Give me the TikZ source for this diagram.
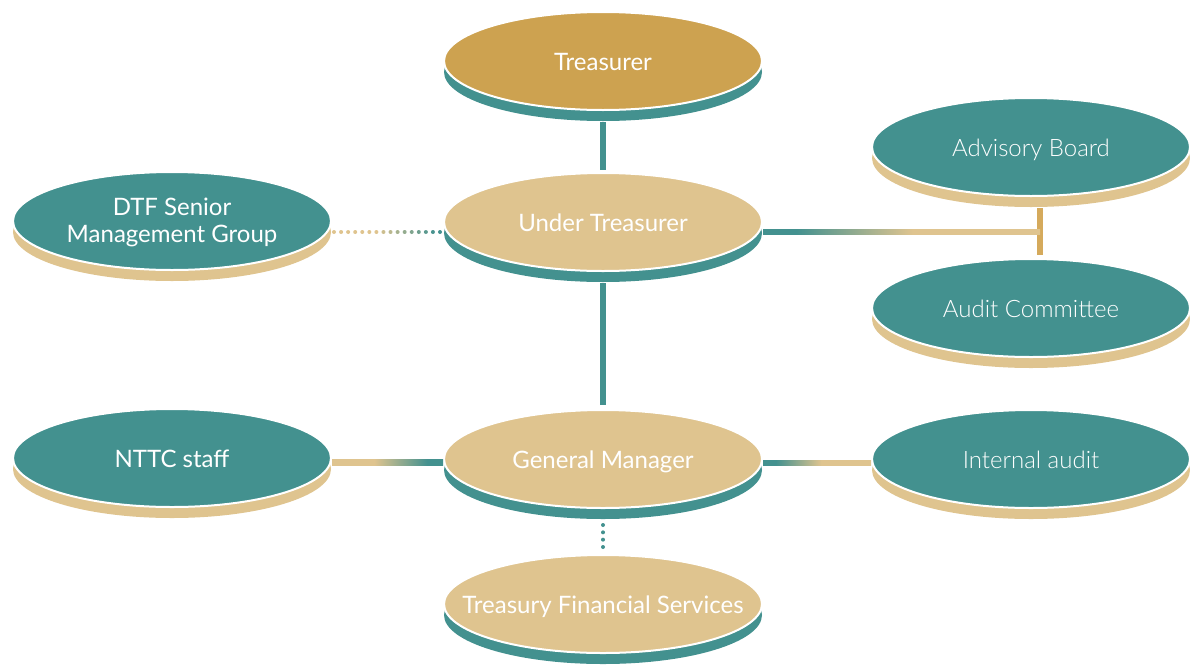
\documentclass[tikz,border=0pt]{standalone}
\usepackage{fontspec}
\setmainfont{Lato}
\newfontfamily\lightfont{Lato Light}
\usetikzlibrary{shapes.geometric,shadows,calc}

\definecolor{tealc}{HTML}{43918F}
\definecolor{tanc}{HTML}{DFC48F}
\definecolor{goldc}{HTML}{CDA250}
\definecolor{barc}{HTML}{D5AA5C}

% gradients for the horizontal links (25bp..75bp spans the path)
\pgfdeclarehorizontalshading{tanteal}{100bp}{color(0bp)=(tanc); color(44bp)=(tanc); color(68bp)=(tealc); color(100bp)=(tealc)}
\pgfdeclarehorizontalshading{tealtan}{100bp}{color(0bp)=(tealc); color(31bp)=(tealc); color(52bp)=(tanc); color(100bp)=(tanc)}

% label of fixed footprint, so every oval keeps the same size
\newcommand{\lbl}[1]{\makebox[0pt]{\begin{tabular}{@{}c@{}}#1\end{tabular}}}

\tikzset{
  oval/.style={ellipse, minimum width=318pt, minimum height=98pt, inner sep=0pt,
    draw=white, line width=2pt, text=white,
    text height=21pt, text depth=0pt,
    font=\fontsize{24}{27}\selectfont},
  onteal/.style={oval, drop shadow={shadow xshift=0pt, shadow yshift=-11pt, fill=tealc, opacity=1}},
  ontan/.style={oval, drop shadow={shadow xshift=0pt, shadow yshift=-11pt, fill=tanc, opacity=1}},
  lightlabel/.style={font=\fontsize{24}{27}\lightfont},
  solidlink/.style={tealc, line width=6pt},
}

\begin{document}
\begin{tikzpicture}[x=1pt, y=-1pt]
\useasboundingbox (0,0) rectangle (1190,664);

% ovals
\node[onteal, fill=goldc] (tr) at (603,61) {\lbl{Treasurer}};
\node[onteal, fill=tanc] (ut) at (603,222) {\lbl{Under Treasurer}};
\node[onteal, fill=tanc] (gm) at (603,459) {\lbl{General Manager}};
\node[onteal, fill=tanc] (tfs) at (603,604) {\lbl{Treasury Financial Services}};
\node[ontan, fill=tealc, text height=17pt] (dtf) at (172,221) {\lbl{DTF Senior\\Management Group}};
\node[ontan, fill=tealc] (nttc) at (172,458) {\lbl{NTTC staff}};
\node[ontan, fill=tealc, lightlabel] (adv) at (1031,147) {\lbl{Advisory Board}};
\node[ontan, fill=tealc, lightlabel] (aud) at (1031,308) {\lbl{Audit Committee}};
\node[ontan, fill=tealc, lightlabel] (ia) at (1031,459) {\lbl{Internal audit}};

% vertical reporting lines
\draw[solidlink] ([yshift=-11pt]tr.south) -- ([yshift=2pt]ut.north);
\draw[solidlink] ([yshift=-11pt]ut.south) -- ([yshift=4pt]gm.north);

% dotted link to the treasury financial services
\foreach \i in {0,...,3}
  \fill[tealc] ($([yshift=-16pt]gm.south)!\i/3!([yshift=7pt]tfs.north)$) circle (2pt);

% dotted link from the senior management group
\coordinate (d0) at ([xshift=2pt,yshift=-11pt]dtf.east);
\coordinate (d1) at ([xshift=-3pt,yshift=-10pt]ut.west);
\foreach \i in {0,...,15}{
  \pgfmathtruncatemacro{\mix}{\i<7 ? 0 : min(100,(\i-6)*12)}
  \fill[tealc!\mix!tanc] ($(d0)!\i/15!(d1)$) circle (2pt);
}

% advisory board and audit committee bracket
\coordinate (junc) at ([xshift=9pt]adv.south |- 0,232);
\draw[barc, line width=5.5pt] ([xshift=9pt,yshift=-11pt]adv.south) -- ([xshift=9pt,yshift=3pt]aud.north);
\shade[shading=tealtan] ([yshift=-7.5pt]ut.east) rectangle ([yshift=-2.5pt]junc);

% side links on the general manager row
\shade[shading=tanteal] ([yshift=-1.5pt]nttc.east) rectangle ([yshift=-6.5pt]gm.west);
\shade[shading=tealtan] ([yshift=-1.5pt]gm.east) rectangle ([yshift=-6.5pt]ia.west);
\end{tikzpicture}
\end{document}
